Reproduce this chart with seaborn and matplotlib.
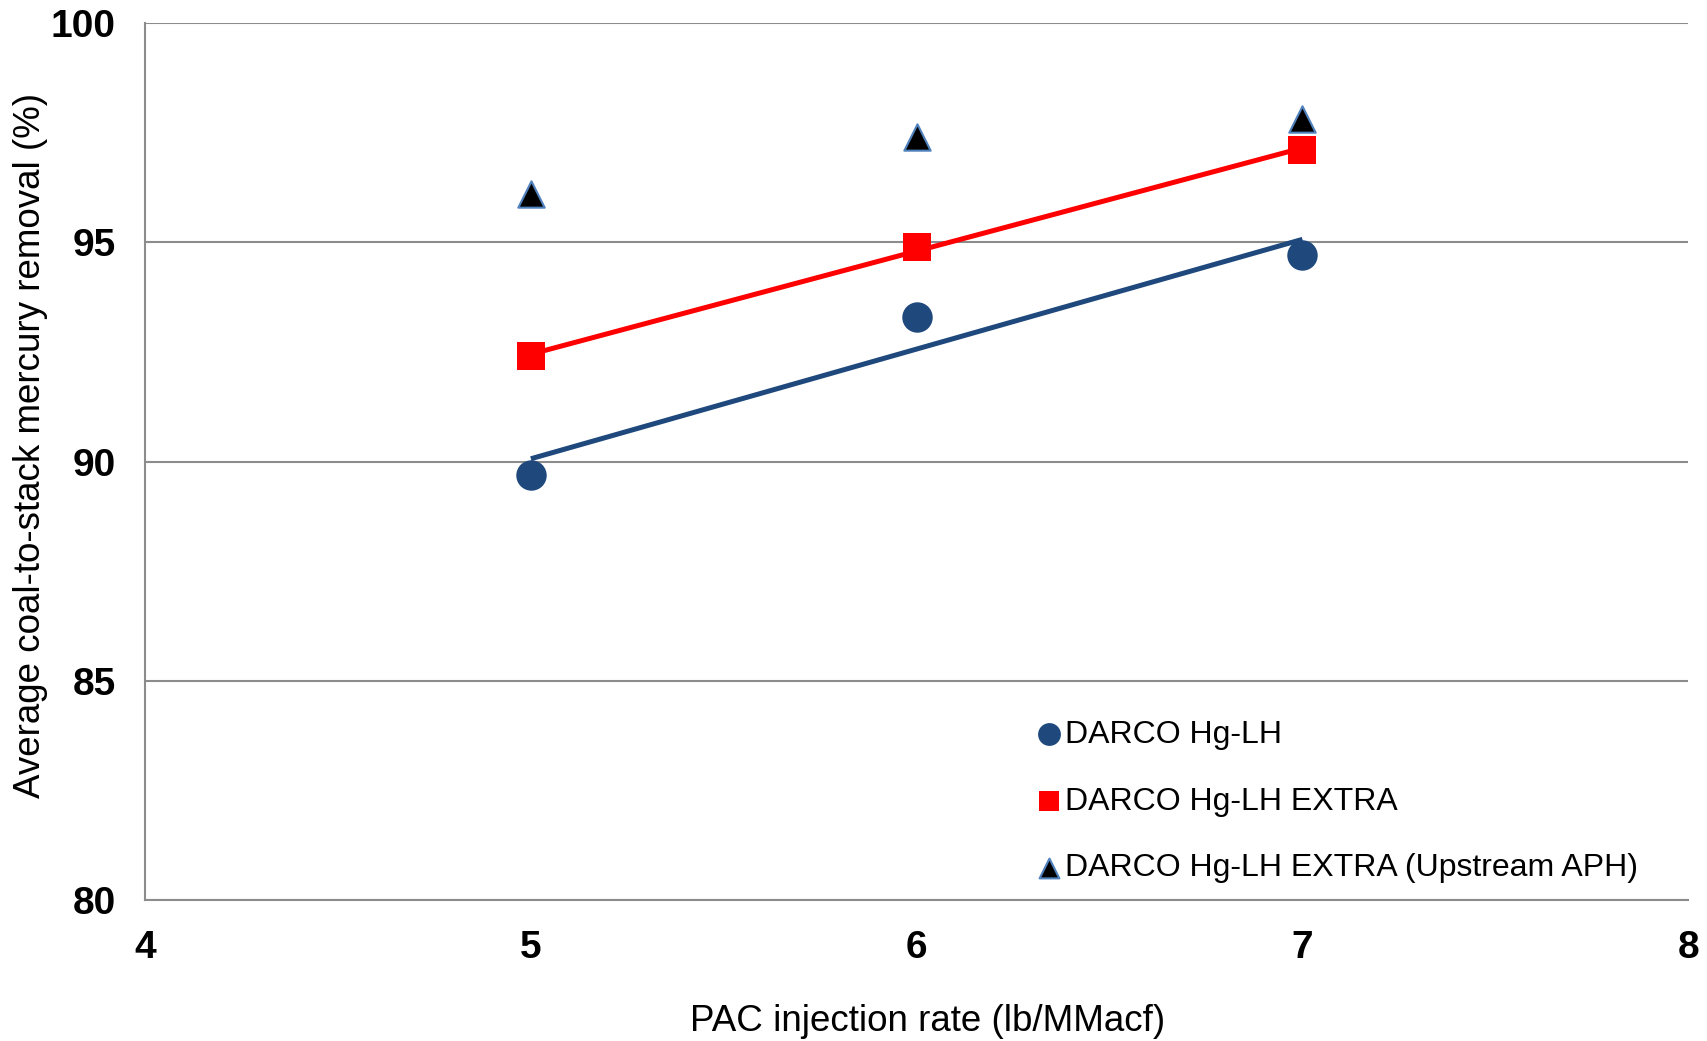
import numpy as np
import pandas as pd
import matplotlib
matplotlib.use("Agg")
import matplotlib.pyplot as plt
import seaborn as sns

# values
injection_rate = [5, 6, 7]
hg_lh = [89.7, 93.3, 94.7]
hg_lh_extra = [92.4, 94.9, 97.1]
hg_lh_extra_upstream = [96.1, 97.4, 97.8]

series_names = ["DARCO Hg-LH", "DARCO Hg-LH EXTRA", "DARCO Hg-LH EXTRA (Upstream APH)"]

df = pd.DataFrame({
    "rate": injection_rate * 3,
    "removal": hg_lh + hg_lh_extra + hg_lh_extra_upstream,
    "series": np.repeat(series_names, len(injection_rate)),
})

sns.set_style("white")
plt.rcParams["font.family"] = ["Liberation Sans", "DejaVu Sans"]
plt.rcParams["text.color"] = "black"
plt.rcParams["axes.labelcolor"] = "black"
plt.rcParams["xtick.labelcolor"] = "black"
plt.rcParams["ytick.labelcolor"] = "black"

fig = plt.figure(figsize=(17.07, 10.41), dpi=100)
ax = fig.add_axes([0.085, 0.135, 0.904, 0.843])

blue = "#1F497D"
red = "#FF0000"
grid_gray = "#8C8C8C"

# linear trendlines for the first two series
for name, color in [(series_names[0], blue), (series_names[1], red)]:
    sub = df[df["series"] == name]
    sns.regplot(data=sub, x="rate", y="removal", scatter=False, ci=None,
                color=color, line_kws={"lw": 3.6, "solid_capstyle": "butt"}, ax=ax)

sub = df[df["series"] == series_names[0]]
sns.scatterplot(data=sub, x="rate", y="removal", marker="o", s=480, color=blue,
                edgecolor=blue, linewidth=0, label=series_names[0], ax=ax, zorder=4)
sub = df[df["series"] == series_names[1]]
sns.scatterplot(data=sub, x="rate", y="removal", marker="s", s=400, color=red,
                edgecolor=red, linewidth=0, label=series_names[1], ax=ax, zorder=4)
sub = df[df["series"] == series_names[2]]
sns.scatterplot(data=sub, x="rate", y="removal", marker="^", s=360, color="black",
                edgecolor="#4F81BD", linewidth=1.5, label=series_names[2], ax=ax, zorder=4)

ax.set_xlim(4, 8)
ax.set_ylim(80, 100)
ax.set_xticks([4, 5, 6, 7, 8])
ax.set_yticks([80, 85, 90, 95, 100])

ax.yaxis.grid(True, color=grid_gray, lw=1.5)
ax.xaxis.grid(False)
ax.set_axisbelow(True)
for side in ["top", "right"]:
    ax.spines[side].set_visible(False)
for side in ["left", "bottom"]:
    ax.spines[side].set_color(grid_gray)
    ax.spines[side].set_linewidth(1.5)

ax.tick_params(axis="both", which="major", direction="out", length=8, width=1.5,
               color=grid_gray, labelsize=28, pad=13)
for lab in ax.get_xticklabels() + ax.get_yticklabels():
    lab.set_fontweight("bold")

ax.set_xlabel("PAC injection rate (lb/MMacf)", fontsize=26.5)
ax.set_ylabel("Average coal-to-stack mercury removal (%)", fontsize=26.5)
ax.xaxis.set_label_coords(0.507, -0.118)
ax.yaxis.set_label_coords(-0.063, 0.518)

ax.legend(loc="lower left", bbox_to_anchor=(0.568, 0.005), frameon=False,
          fontsize=23, handletextpad=0.05, handlelength=0.9, labelspacing=1.15,
          markerscale=0.75, borderaxespad=0)

fig.savefig("out.png", dpi=100)
